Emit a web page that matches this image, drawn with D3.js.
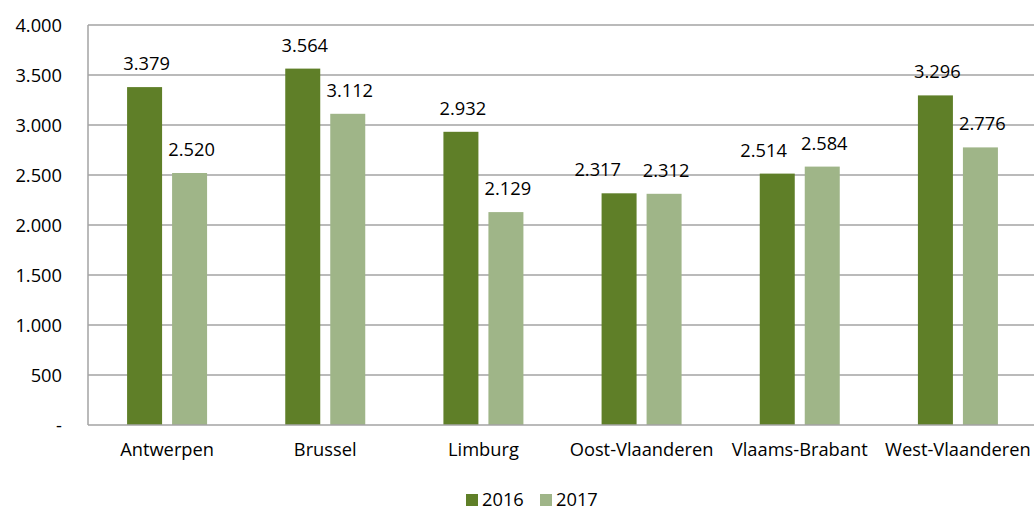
<!DOCTYPE html>
<html>
<head>
<meta charset="utf-8">
<script src="https://cdnjs.cloudflare.com/ajax/libs/d3/7.8.5/d3.min.js"></script>
<style>
  body { margin: 0; background: #fff; }
  svg text { font-family: "Open Sans", "Noto Sans", sans-serif; fill: #000; }
</style>
</head>
<body>
<div class="chart"></div>
<script>
// data
var provinces = ["Antwerpen", "Brussel", "Limburg", "Oost-Vlaanderen", "Vlaams-Brabant", "West-Vlaanderen"];
var years = ["2016", "2017"];
var values2016 = [3379, 3564, 2932, 2317, 2514, 3296];
var values2017 = [2520, 3112, 2129, 2312, 2584, 2776];
var yTicks = [0, 500, 1000, 1500, 2000, 2500, 3000, 3500, 4000];
var colors = ["#5f7f28", "#9fb588"];

var svgWidth = 1034;
var svgHeight = 510;
var fontSize = "18.3px";

var margin = { top: 25, bottom: 85, right: -3, left: 88 };
var height = svgHeight - margin.top - margin.bottom;
var width = svgWidth - margin.left - margin.right;

var svg = d3.select(".chart")
  .append("svg")
  .attr("width", svgWidth)
  .attr("height", svgHeight);

var chartGroup = svg.append("g")
  .attr("transform", `translate(${margin.left}, ${margin.top})`);

// nl style number format: 3.379
function fmt(v) {
  if (v === 0) return "-";
  return d3.format(",")(v).replace(/,/g, ".");
}

var xScale = d3.scaleBand()
  .domain(provinces)
  .range([0, width])
  .padding(0);

var xInner = d3.scaleBand()
  .domain(years)
  .range([-40, 40])
  .paddingInner(10 / 45);

var yScale = d3.scaleLinear()
  .domain([0, 4000])
  .range([height, 0]);

// gridlines
chartGroup.selectAll(".grid")
  .data(yTicks.slice(1))
  .enter()
  .append("line")
  .attr("x1", 0)
  .attr("x2", width)
  .attr("y1", d => yScale(d))
  .attr("y2", d => yScale(d))
  .attr("stroke", "#a3a3a3")
  .attr("stroke-width", 1.5);

// y axis labels
var yAxis = d3.axisLeft(yScale).tickValues(yTicks).tickFormat(fmt).tickSize(0).tickPadding(26);
var yG = chartGroup.append("g").call(yAxis);
yG.select(".domain").remove();
yG.selectAll("text").style("font-size", fontSize).attr("dy", "0.35em");

// bars
var data = provinces.map((p, i) => ({ name: p, vals: [values2016[i], values2017[i]] }));

var groups = chartGroup.selectAll(".grp")
  .data(data)
  .enter()
  .append("g")
  .attr("transform", d => `translate(${xScale(d.name) + xScale.bandwidth() / 2}, 0)`);

groups.selectAll("rect")
  .data(d => d.vals.map((v, j) => ({ year: years[j], value: v, c: colors[j] })))
  .enter()
  .append("rect")
  .attr("x", d => xInner(d.year))
  .attr("width", xInner.bandwidth())
  .attr("y", d => yScale(d.value))
  .attr("height", d => height - yScale(d.value))
  .attr("fill", d => d.c);

// value labels, the first one nudged left when both labels sit at nearly the same height
groups.each(function(d) {
  var g = d3.select(this);
  var dy = Math.abs(yScale(d.vals[0]) - yScale(d.vals[1]));
  var nudge = dy < 20 ? 24 * (1 - dy / 20) : 0;
  d.vals.forEach(function(v, j) {
    g.append("text")
      .attr("x", xInner(years[j]) + xInner.bandwidth() / 2 + 2 - (j === 0 ? nudge : 0))
      .attr("y", yScale(v) - 17)
      .attr("text-anchor", "middle")
      .style("font-size", fontSize)
      .text(fmt(v));
  });
});

// axis lines
chartGroup.append("line")
  .attr("x1", 0).attr("x2", width)
  .attr("y1", height).attr("y2", height)
  .attr("stroke", "#a3a3a3").attr("stroke-width", 1.5);
chartGroup.append("line")
  .attr("x1", 0).attr("x2", 0)
  .attr("y1", 0).attr("y2", height)
  .attr("stroke", "#a3a3a3").attr("stroke-width", 1.5);

// x axis labels
var xAxis = d3.axisBottom(xScale).tickSize(0).tickPadding(18);
var xG = chartGroup.append("g")
  .attr("transform", `translate(0, ${height})`)
  .call(xAxis);
xG.select(".domain").remove();
xG.selectAll("text").style("font-size", fontSize);

// legend
var legend = svg.append("g").attr("transform", "translate(466, 494)");
var items = legend.selectAll(".item")
  .data(years)
  .enter()
  .append("g")
  .attr("transform", (d, i) => `translate(${i * 74}, 0)`);
items.append("rect")
  .attr("width", 12).attr("height", 12)
  .attr("fill", (d, i) => colors[i]);
items.append("text")
  .attr("x", 16).attr("y", 12)
  .style("font-size", fontSize)
  .text(d => d);
</script>
</body>
</html>
